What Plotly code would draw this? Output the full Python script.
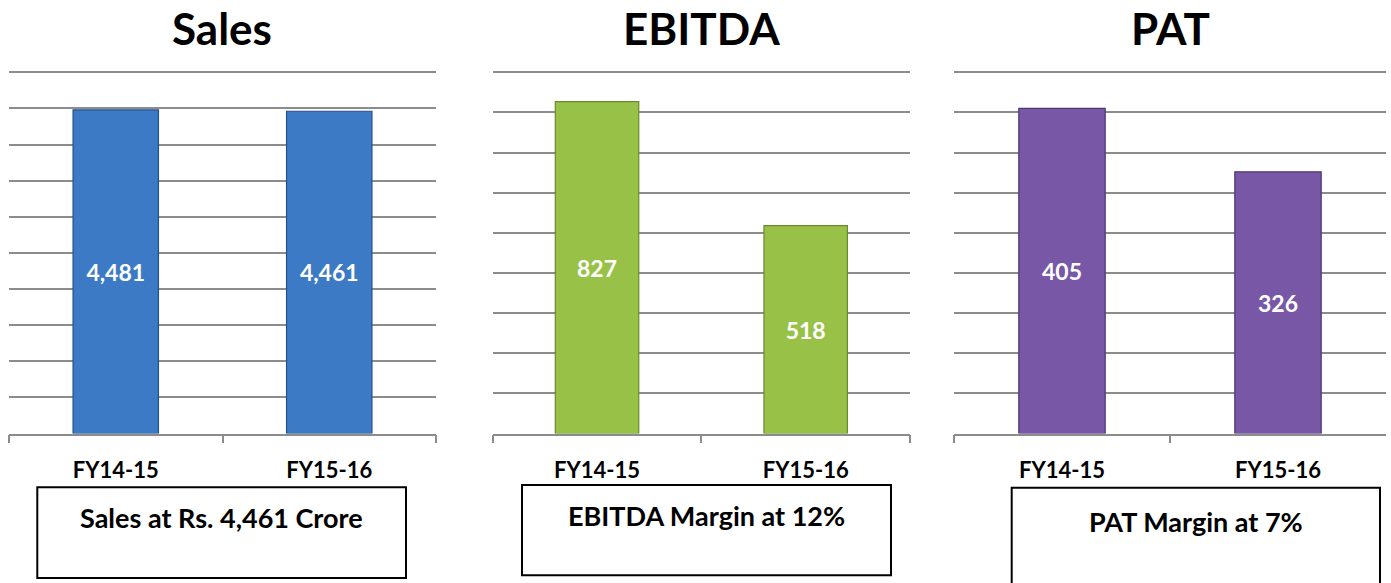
import plotly.graph_objects as go

W, H = 1391, 583

categories = ["FY14-15", "FY15-16"]
sales = [4481, 4461]
ebitda = [827, 518]
pat = [405, 326]
sales_labels = ["4,481", "4,461"]
ebitda_labels = ["827", "518"]
pat_labels = ["405", "326"]
panel_titles = ["Sales", "EBITDA", "PAT"]
box_texts = ["Sales at Rs. 4,461 Crore", "EBITDA Margin at 12%", "PAT Margin at 7%"]

FONT = "Lato"

def px_x(x):
    return x / W

def px_y(y):
    return 1 - y / H

panels = [
    dict(vals=sales, labels=sales_labels, color="#3C7AC6", edge="#24508A",
         dom=(9, 436), yrange=5000, dtick=500),
    dict(vals=ebitda, labels=ebitda_labels, color="#98C247", edge="#6B8A2C",
         dom=(492.7, 910), yrange=900, dtick=100),
    dict(vals=pat, labels=pat_labels, color="#7858A6", edge="#4E3672",
         dom=(954, 1386), yrange=450, dtick=50),
]

fig = go.Figure()
PAD = 1.01  # small headroom so the top gridline is drawn
y_bottom, y_top = 433.5, 72.3
y_top_ext = y_bottom - (y_bottom - y_top) * PAD
ydom = [px_y(y_bottom), px_y(y_top_ext)]

for i, p in enumerate(panels):
    n = "" if i == 0 else str(i + 1)
    fig.add_trace(go.Bar(
        x=categories, y=p["vals"], text=p["labels"],
        textposition="inside", insidetextanchor="middle",
        textfont=dict(family=FONT, size=23, color="white", weight="bold"),
        marker=dict(color=p["color"], line=dict(color=p["edge"], width=1.2)),
        width=0.4, xaxis="x" + n, yaxis="y" + n, showlegend=False,
        hoverinfo="skip", cliponaxis=False,
    ))
    fig.layout["xaxis" + n] = dict(
        domain=[px_x(p["dom"][0]), px_x(p["dom"][1])], anchor="y" + n,
        type="category", showline=True, linecolor="#8c8c8c", linewidth=1.5,
        ticks="outside", tickson="boundaries", ticklen=8, tickcolor="#8c8c8c",
        tickwidth=1.5, showgrid=False, ticklabelstandoff=16,
        tickfont=dict(family=FONT, size=22, color="black", weight="bold"),
        fixedrange=True,
    )
    fig.layout["yaxis" + n] = dict(
        domain=ydom, anchor="x" + n, range=[0, p["yrange"] * PAD],
        tick0=0, dtick=p["dtick"],
        showgrid=True, gridcolor="#8c8c8c", gridwidth=1.5, zeroline=False,
        showticklabels=False, ticks="", fixedrange=True,
    )
    cx = (p["dom"][0] + p["dom"][1]) / 2
    fig.add_annotation(
        x=px_x(cx), y=px_y(28), xref="paper", yref="paper",
        text=panel_titles[i], showarrow=False, xanchor="center", yanchor="middle",
        font=dict(family=FONT, size=44, color="black", weight="bold"),
    )

boxes = [
    (37.3, 406, 487.3, 578, 221.7, 517),
    (522, 891, 485, 575.3, 706.5, 515),
    (1011.7, 1380, 487.7, 590, 1196, 521),
]
for (x0, x1, y0, y1, tx, ty), t in zip(boxes, box_texts):
    fig.add_shape(type="rect", xref="paper", yref="paper",
                  x0=px_x(x0), x1=px_x(x1), y0=px_y(y1), y1=px_y(y0),
                  line=dict(color="black", width=2), fillcolor="rgba(0,0,0,0)")
    fig.add_annotation(
        x=px_x(tx), y=px_y(ty), xref="paper", yref="paper", text=t,
        showarrow=False, xanchor="center", yanchor="middle",
        font=dict(family=FONT, size=27, color="black", weight="bold"),
    )

fig.update_layout(
    width=W, height=H, margin=dict(l=0, r=0, t=0, b=0),
    paper_bgcolor="white", plot_bgcolor="white", bargap=0.6,
)

fig.write_html(
    "out.html",
    config={"displayModeBar": False},
    post_script="document.body.style.margin='0px';document.body.style.overflow='hidden';",
)
